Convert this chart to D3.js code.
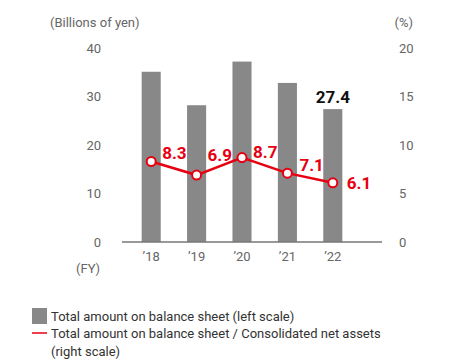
<!DOCTYPE html>
<html>
<head>
<meta charset="utf-8">
<script src="https://cdn.jsdelivr.net/npm/d3@7"></script>
<style>
  html, body { margin: 0; padding: 0; background: #fff; }
  svg { display: block; font-family: Roboto, "Noto Sans", sans-serif; }
</style>
</head>
<body>
<svg id="chart" width="462" height="360"></svg>
<script>
// Fiscal years and series
const years = ["’18", "’19", "’20", "’21", "’22"];
const balanceAmount = [35.1, 28.2, 37.2, 32.8, 27.4];   // billions of yen, left scale
const ratioPct = [8.3, 6.9, 8.7, 7.1, 6.1];              // %, right scale
const leftTicks = [0, 10, 20, 30, 40];
const rightTicks = [0, 5, 10, 15, 20];

// Label placement tweaks (dx, dy from each point)
const ratioLabelNudge = [[11, -2], [11, -14], [11, 0], [12, -2], [14, 6]];

const svg = d3.select("#chart");
const red = "#e60012";
const grey = "#666";

const x = d3.scaleBand().domain(years).range([128.5, 355.5]).paddingInner(0.58).paddingOuter(0.29);
const yL = d3.scaleLinear().domain([0, 40]).range([242, 48]);
const yR = d3.scaleLinear().domain([0, 20]).range([242, 48]);
const cx = d => x(d) + x.bandwidth() / 2;

// Axis captions
svg.append("text").attr("x", 50).attr("y", 27).attr("font-size", 13).attr("fill", grey).text("(Billions of yen)");
svg.append("text").attr("x", 413).attr("y", 27).attr("text-anchor", "end").attr("font-size", 13).attr("fill", grey).text("(%)");
svg.append("text").attr("x", 76).attr("y", 273).attr("font-size", 13).attr("fill", grey).text("(FY)");

// Left axis labels
const leftAxis = d3.axisLeft(yL).tickValues(leftTicks).tickSize(0).tickPadding(0);
svg.append("g").attr("transform", "translate(101,0)").call(leftAxis)
  .call(g => g.select(".domain").remove())
  .call(g => g.selectAll("text").attr("font-size", 13).attr("fill", grey).attr("font-family", "Roboto, sans-serif"));

// Right axis labels
const rightAxis = d3.axisRight(yR).tickValues(rightTicks).tickSize(0).tickPadding(0);
svg.append("g").attr("transform", "translate(399,0)").call(rightAxis)
  .call(g => g.select(".domain").remove())
  .call(g => g.selectAll("text").attr("font-size", 13).attr("fill", grey).attr("font-family", "Roboto, sans-serif"));

// Bars
svg.append("g").selectAll("rect").data(balanceAmount).join("rect")
  .attr("x", (d, i) => x(years[i]))
  .attr("width", x.bandwidth())
  .attr("y", d => yL(d))
  .attr("height", d => yL(0) - yL(d))
  .attr("fill", "#888888");

// Baseline
svg.append("line").attr("x1", 122).attr("x2", 382).attr("y1", yL(0)).attr("y2", yL(0))
  .attr("stroke", "#777").attr("stroke-width", 1.5);

// X axis labels
const xAxis = d3.axisBottom(x).tickSize(0).tickPadding(0);
svg.append("g").attr("transform", "translate(0,252)").call(xAxis)
  .call(g => g.select(".domain").remove())
  .call(g => g.selectAll("text").attr("font-size", 13).attr("fill", grey).attr("font-family", "Roboto, sans-serif"));

// Value label on the latest bar
const last = balanceAmount.length - 1;
svg.append("text").attr("x", cx(years[last])).attr("y", yL(balanceAmount[last]) - 6)
  .attr("text-anchor", "middle").attr("font-size", 17).attr("font-weight", "bold").attr("fill", "#111")
  .text(balanceAmount[last].toFixed(1));

// Ratio line
const line = d3.line().x((d, i) => cx(years[i])).y(d => yR(d));
svg.append("path").datum(ratioPct).attr("d", line)
  .attr("fill", "none").attr("stroke", red).attr("stroke-width", 2.5);

svg.append("g").selectAll("circle").data(ratioPct).join("circle")
  .attr("cx", (d, i) => cx(years[i])).attr("cy", d => yR(d)).attr("r", 4.5)
  .attr("fill", "#fff").attr("stroke", red).attr("stroke-width", 2);

svg.append("g").selectAll("text").data(ratioPct).join("text")
  .attr("x", (d, i) => cx(years[i]) + ratioLabelNudge[i][0])
  .attr("y", (d, i) => yR(d) + ratioLabelNudge[i][1])
  .attr("font-size", 17).attr("font-weight", "bold").attr("fill", red)
  .text(d => d.toFixed(1));

// Legend
const lg = svg.append("g").attr("font-size", 13).attr("fill", "#333");
lg.append("rect").attr("x", 32).attr("y", 308).attr("width", 15).attr("height", 16).attr("fill", "#888888");
lg.append("text").attr("x", 51).attr("y", 321).text("Total amount on balance sheet (left scale)");
lg.append("line").attr("x1", 32).attr("x2", 47).attr("y1", 333).attr("y2", 333).attr("stroke", red).attr("stroke-width", 1.5);
lg.append("text").attr("x", 51).attr("y", 338).text("Total amount on balance sheet / Consolidated net assets");
lg.append("text").attr("x", 51).attr("y", 356).text("(right scale)");
</script>
</body>
</html>
